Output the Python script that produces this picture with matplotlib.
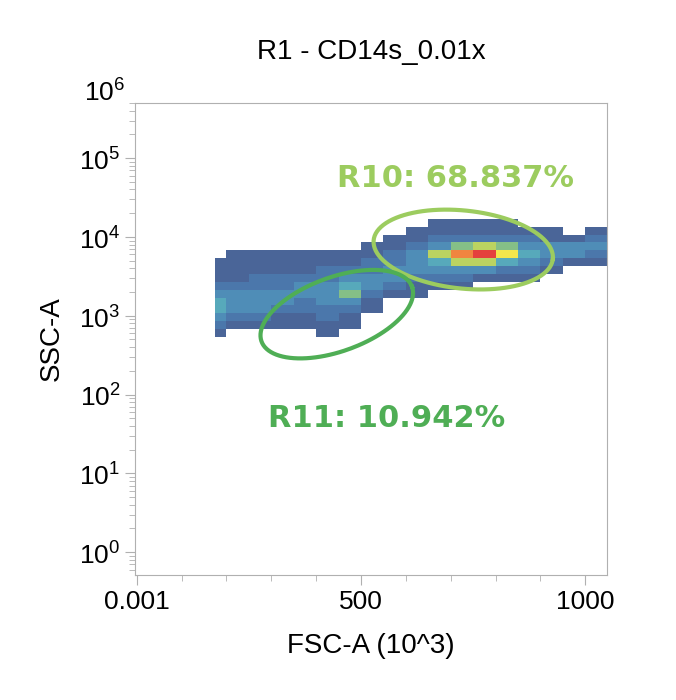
import numpy as np
import matplotlib.pyplot as plt
from matplotlib.colors import LinearSegmentedColormap
from matplotlib.ticker import MultipleLocator, LogLocator, NullFormatter

plt.rcParams['font.family'] = ['Liberation Sans', 'DejaVu Sans']

# binned event density (rows: log10 SSC, top -> bottom)
x_edges = [175] + list(range(200, 1051, 50))
y_edges = np.arange(2.73, 4.34, 0.1)
density = np.array([
    [0, 0, 0, 0, 0, 0, 0, 0, 0, 0, 0, 0, 0, 0, 0, 0, 0, 0],
    [0, 0, 0, 0, 0, 0, 0, 0, 0, 0, 1, 1, 1, 1, 0, 0, 0, 0],
    [0, 0, 0, 0, 0, 0, 0, 0, 0, 1, 1, 1, 1, 1, 1, 1, 0, 1],
    [0, 0, 0, 0, 0, 0, 0, 0, 1, 1, 2, 2, 2, 2, 2, 1, 1, 2],
    [0, 0, 0, 0, 0, 0, 0, 1, 1, 2, 3, 5, 6, 5, 3, 3, 3, 3],
    [0, 1, 1, 1, 1, 1, 1, 1, 2, 3, 6, 9, 10, 7, 4, 3, 3, 2],
    [1, 1, 1, 1, 1, 1, 1, 2, 2, 3, 4, 6, 6, 4, 3, 2, 1, 1],
    [1, 1, 1, 1, 1, 2, 2, 2, 3, 3, 3, 3, 3, 2, 2, 1, 0, 0],
    [1, 1, 2, 2, 2, 2, 3, 3, 3, 2, 2, 2, 1, 1, 1, 0, 0, 0],
    [2, 2, 2, 2, 3, 3, 4, 3, 2, 1, 1, 1, 0, 0, 0, 0, 0, 0],
    [3, 3, 3, 3, 3, 3, 5, 2, 1, 1, 0, 0, 0, 0, 0, 0, 0, 0],
    [4, 3, 3, 3, 2, 3, 3, 1, 0, 0, 0, 0, 0, 0, 0, 0, 0, 0],
    [4, 3, 3, 2, 2, 2, 2, 1, 0, 0, 0, 0, 0, 0, 0, 0, 0, 0],
    [3, 2, 2, 1, 1, 2, 1, 0, 0, 0, 0, 0, 0, 0, 0, 0, 0, 0],
    [2, 1, 1, 1, 1, 1, 1, 0, 0, 0, 0, 0, 0, 0, 0, 0, 0, 0],
    [1, 0, 0, 0, 0, 1, 0, 0, 0, 0, 0, 0, 0, 0, 0, 0, 0, 0],
], dtype=float)[::-1]

# gates: centre (FSC, log10 SSC), width/height in px, tilt in px space
gates = {
    'R10': dict(cx=728, cy=3.84, w=180, h=78, ang=-6, color='#9ccc5f',
                label='R10: 68.837%', tx=710, ty=4.74),
    'R11': dict(cx=446, cy=3.02, w=160, h=74, ang=20, color='#4fae55',
                label='R11: 10.942%', tx=558, ty=1.69),
}
PX_X = 0.448   # px per FSC unit
PX_Y = 78.8    # px per decade

cmap = LinearSegmentedColormap.from_list(
    'flow', ['#2a4a86', '#2c6aa8', '#3a9ab0', '#8cc152', '#f2e22c', '#f59a1f', '#e0201b'])

fig = plt.figure(figsize=(6.76, 7.0), dpi=100)
ax = fig.add_axes([0.1997, 0.1786, 0.6985, 0.6743])

Z = np.ma.masked_equal(density, 0)
ax.pcolormesh(x_edges, 10 ** y_edges, Z, cmap=cmap, vmin=1, vmax=10,
              shading='flat', alpha=0.85, linewidth=0)

t = np.linspace(0, 2 * np.pi, 200)
for g in gates.values():
    a = np.deg2rad(g['ang'])
    u = g['w'] / 2 * np.cos(t)
    v = g['h'] / 2 * np.sin(t)
    ux = u * np.cos(a) - v * np.sin(a)
    vy = u * np.sin(a) + v * np.cos(a)
    ax.plot(g['cx'] + ux / PX_X, 10 ** (g['cy'] + vy / PX_Y), color=g['color'], lw=3)
    ax.text(g['tx'], 10 ** g['ty'], g['label'], color=g['color'], fontsize=22,
            fontweight='bold', ha='center', va='center', family='DejaVu Sans')

ax.set_yscale('log')
ax.set_xlim(-4, 1049)
ax.set_ylim(10 ** -0.29, 10 ** 5.70)
ax.set_xticks([0, 500, 1000])
ax.set_xticklabels(['0.001', '500', '1000'])
ax.xaxis.set_minor_locator(MultipleLocator(100))
ax.set_yticks([10 ** k for k in range(6)])
ax.set_yticklabels([r'10$^{\mathregular{%d}}$' % k for k in range(6)])
ax.yaxis.set_minor_locator(LogLocator(base=10, subs=np.arange(2, 10)))
ax.yaxis.set_minor_formatter(NullFormatter())
ax.text(-0.02, 10 ** 5.84, r'10$^{\mathregular{6}}$', transform=ax.get_yaxis_transform(),
        ha='right', va='center', fontsize=19, clip_on=False)

for s in ax.spines.values():
    s.set_color('#b0b0b0')
ax.tick_params(which='both', colors='#b0b0b0', labelcolor='black', labelsize=19)
ax.tick_params(which='major', length=7)
ax.tick_params(which='minor', length=4)

ax.set_title('R1 - CD14s_0.01x', fontsize=20, pad=32)
ax.set_xlabel('FSC-A (10^3)', fontsize=20, labelpad=14)
ax.set_ylabel('SSC-A', fontsize=20, labelpad=10)

fig.savefig('out.png', dpi=100)
